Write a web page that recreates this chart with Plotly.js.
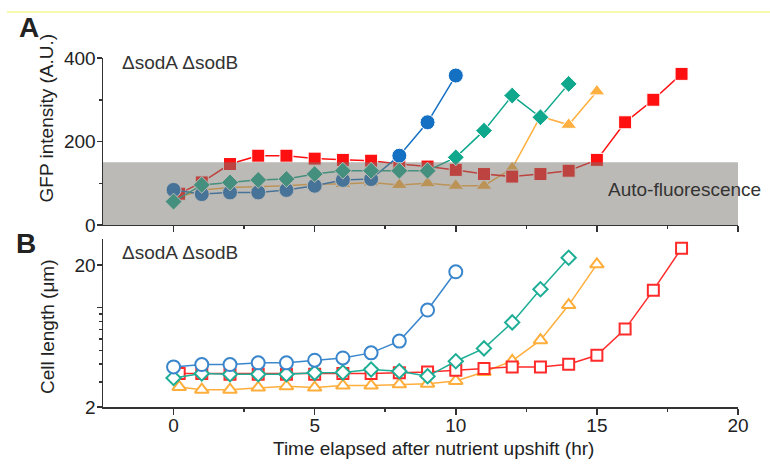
<!DOCTYPE html>
<html>
<head>
<meta charset="utf-8">
<script src="https://cdn.plot.ly/plotly-3.0.1.min.js"></script>
<style>html,body{margin:0;padding:0;background:#fff;}#chart{width:770px;height:467px;}</style>
</head>
<body>
<div id="chart"></div>
<script>
// ---- Data ----
// Panel A: GFP intensity (A.U.)
const gfpBlueX   = [0,1,2,3,4,5,6,7,8,9,10];
const gfpBlueY   = [84,74,78,78,84,94,108,110,166,246,358];
const gfpTealX   = [0,1,2,3,4,5,6,7,8,9,10,11,12,13,14];
const gfpTealY   = [56,96,102,108,110,122,130,130,130,130,162,226,310,258,338];
const gfpOrangeX = [0.2,1,2,3,4,5,6,7,8,9,10,11,12,13,14,15];
const gfpOrangeY = [67,84,90,92,94,98,98,102,96,100,94,94,136,260,240,320];
const gfpRedX    = [0.2,1,2,3,4,5,6,7,8,9,10,11,12,13,14,15,16,17,18];
const gfpRedY    = [75,102,146,166,166,159,156,154,146,140,132,122,116,122,130,156,246,300,362];
const autoFluorLevel = 150;

// Panel B: cell length (µm), log scale
const lenBlueX   = [0,1,2,3,4,5,6,7,8,9,10];
const lenBlueY   = [3.83,3.98,3.98,4.09,4.09,4.27,4.43,4.81,5.82,9.63,17.9];
const lenTealX   = [0,1,2,3,4,5,6,7,8,9,10,11,12,13,14];
const lenTealY   = [3.20,3.44,3.40,3.40,3.40,3.48,3.50,3.67,3.57,3.29,4.20,5.17,7.88,13.48,22.5];
const lenOrangeX = [0.2,1,2,3,4,5,6,7,8,9,10,11,12,13,14,15];
const lenOrangeY = [2.77,2.65,2.65,2.74,2.80,2.74,2.83,2.83,2.89,2.92,3.05,3.53,4.22,5.91,10.44,20.2];
const lenRedX    = [0.2,1,2,3,4,5,6,7,8,9,10,11,12,13,14,15,16,17,18];
const lenRedY    = [3.44,3.44,3.40,3.40,3.40,3.40,3.44,3.44,3.48,3.53,3.63,3.73,3.83,3.83,4.0,4.63,7.07,13.3,26.2];

// Tick labels
const xTickVals = [0,5,10,15,20];
const xMinorVals = [2.5,7.5,12.5,17.5];
const gfpTickVals = [0,200,400];
const gfpMinorVals = [100,300];
const lenTickVals = [2,10,20];
const lenTickText = ['2','','20'];
const lenMinorVals = [3,4,5,6,7,8,9];

// ---- Styles ----
const C = {blue:'#1470c2', teal:'#0fa88c', orange:'#ffb040', red:'#ff1010'};
const CB = {blue:'#3a86cc', teal:'#1eae96', orange:'#ffae3c', red:'#ff2a2a'};
const FONT = 'Liberation Sans, Arial, Helvetica, sans-serif';
const FS = 19;

function tA(x, y, color, symbol, size) {
  return {x, y, xaxis:'x', yaxis:'y', type:'scatter', mode:'lines+markers',
    line:{color, width:1.5},
    marker:{symbol, size, color, line:{color:'#ffffff', width:1}},
    hoverinfo:'skip', showlegend:false};
}
function tB(x, y, color, symbol, size) {
  return {x, y, xaxis:'x2', yaxis:'y2', type:'scatter', mode:'lines+markers',
    line:{color, width:1.5},
    marker:{symbol, size, color:'#ffffff', line:{color, width:2}},
    hoverinfo:'skip', showlegend:false};
}

const data = [
  tA(gfpOrangeX, gfpOrangeY, C.orange, 'triangle-up', 14),
  tA(gfpRedX, gfpRedY, C.red, 'square', 13),
  tA(gfpBlueX, gfpBlueY, C.blue, 'circle', 15),
  tA(gfpTealX, gfpTealY, C.teal, 'diamond', 13),
  tB(lenOrangeX, lenOrangeY, CB.orange, 'triangle-up', 12),
  tB(lenRedX, lenRedY, CB.red, 'square', 11),
  tB(lenTealX, lenTealY, CB.teal, 'diamond', 11),
  tB(lenBlueX, lenBlueY, CB.blue, 'circle', 13)
];

const minorStyle = {tickmode:'array', ticks:'outside', ticklen:3, tickwidth:1.5, tickcolor:'#333333', showgrid:false};
const axisCommon = {
  showline:true, linecolor:'#333333', linewidth:1.5, showgrid:false, zeroline:false,
  ticks:'outside', ticklen:6, tickwidth:1.5, tickcolor:'#333333',
  tickfont:{family:FONT, size:FS, color:'#222222'}, fixedrange:true
};

const layout = {
  width:770, height:467,
  margin:{l:103, r:32, t:58, b:60, pad:0},
  paper_bgcolor:'#ffffff', plot_bgcolor:'rgba(0,0,0,0)',
  font:{family:FONT, color:'#222222'},
  xaxis: Object.assign({}, axisCommon, {
    domain:[0,1], anchor:'y', range:[-2.5,20],
    tickmode:'array', tickvals:xTickVals, showticklabels:false,
    minor:Object.assign({tickvals:xMinorVals}, minorStyle)
  }),
  yaxis: Object.assign({}, axisCommon, {
    domain:[0.5215,1], anchor:'x', range:[0,400],
    tickmode:'array', tickvals:gfpTickVals, ticklen:5, ticklabelstandoff:-3,
    minor:Object.assign({tickvals:gfpMinorVals}, minorStyle)
  }),
  xaxis2: Object.assign({}, axisCommon, {
    domain:[0,1], anchor:'y2', range:[-2.5,20],
    tickmode:'array', tickvals:xTickVals, showticklabels:true, ticklabelstandoff:-5,
    minor:Object.assign({tickvals:xMinorVals}, minorStyle)
  }),
  yaxis2: Object.assign({}, axisCommon, {
    domain:[0,0.481], anchor:'x2', type:'log', range:[Math.log10(2), Math.log10(30.4)],
    tickmode:'array', tickvals:lenTickVals, ticktext:lenTickText, ticklen:5, ticklabelstandoff:-3,
    minor:Object.assign({tickvals:lenMinorVals}, minorStyle)
  }),
  shapes:[
    {type:'rect', xref:'x', yref:'y', x0:-2.5, x1:20, y0:0, y1:autoFluorLevel,
     fillcolor:'rgb(122,118,110)', opacity:0.5, line:{width:0}, layer:'above'},
    {type:'line', xref:'paper', yref:'paper', x0:-0.151, x1:1.06, y0:1.1318, y1:1.1318,
     line:{color:'#f2f25a', width:1}}
  ],
  annotations:[
    {text:'<b>A</b>', xref:'paper', yref:'paper', x:-0.1173, y:1.086, xanchor:'center', yanchor:'middle', showarrow:false,
     font:{family:FONT, size:28, color:'#222222'}},
    {text:'<b>B</b>', xref:'paper', yref:'paper', x:-0.1213, y:0.4685, xanchor:'center', yanchor:'middle', showarrow:false,
     font:{family:FONT, size:28, color:'#222222'}},
    {text:'GFP intensity (A.U.)', xref:'paper', yref:'paper', x:-0.0882, y:0.8295, textangle:-90, xanchor:'center', yanchor:'middle', showarrow:false,
     font:{family:FONT, size:FS, color:'#222222'}},
    {text:'Cell length (\u03bcm)', xref:'paper', yref:'paper', x:-0.0882, y:0.2292, textangle:-90, xanchor:'center', yanchor:'middle', showarrow:false,
     font:{family:FONT, size:FS, color:'#222222'}},
    {text:'Time elapsed after nutrient upshift (hr)', xref:'paper', yref:'paper', x:0.5197, y:-0.1175, xanchor:'center', yanchor:'middle', showarrow:false,
     font:{family:FONT, size:FS, color:'#222222'}},
    {text:'\u0394sodA \u0394sodB', xref:'paper', yref:'paper', x:0.027, y:0.9857, xanchor:'left', yanchor:'middle', showarrow:false,
     font:{family:FONT, size:FS, color:'#333333'}},
    {text:'\u0394sodA \u0394sodB', xref:'paper', yref:'paper', x:0.027, y:0.4413, xanchor:'left', yanchor:'middle', showarrow:false,
     font:{family:FONT, size:FS, color:'#333333'}},
    {text:'Auto-fluorescence', xref:'paper', yref:'paper', x:1.04, y:0.6218, xanchor:'right', yanchor:'middle', showarrow:false,
     font:{family:FONT, size:FS, color:'#333333'}}
  ]
};

Plotly.newPlot('chart', data, layout, {displayModeBar:false, staticPlot:true});
</script>
</body>
</html>
